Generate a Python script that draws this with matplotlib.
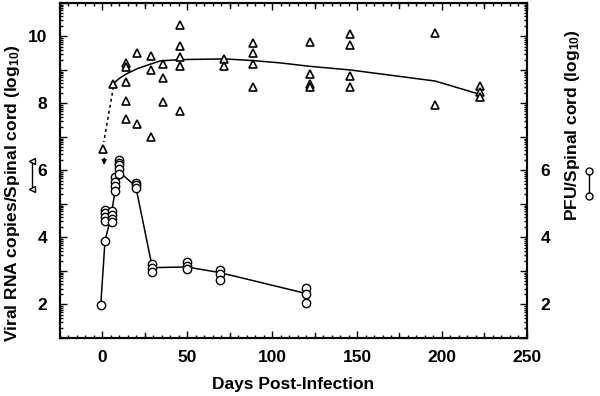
import numpy as np
import matplotlib
matplotlib.use("Agg")
import matplotlib.pyplot as plt
from matplotlib.lines import Line2D

plt.rcParams['font.family'] = 'Liberation Sans'
plt.rcParams['font.weight'] = 'bold'
plt.rcParams['mathtext.fontset'] = 'custom'
plt.rcParams['mathtext.rm'] = 'Liberation Sans:bold'
plt.rcParams['mathtext.default'] = 'rm'

# viral RNA (triangles)
rna_days = [0.5, 6.5,
            13.8, 13.8, 13.8, 13.8, 13.8,
            20.6, 20.6,
            28.6, 28.6, 28.6,
            35.9, 35.9, 35.9,
            45.7, 45.7, 45.7, 45.7, 45.7,
            71.8, 71.8,
            88.8, 88.8, 88.8, 88.8,
            122, 122, 122, 122,
            146, 146, 146, 146,
            196, 196,
            222.5, 222.5, 222.5]
rna_vals = [6.65, 8.58,
            9.21, 9.09, 8.64, 8.07, 7.55,
            9.51, 7.40,
            9.41, 9.00, 6.99,
            9.18, 8.75, 8.04,
            10.33, 9.73, 9.39, 9.11, 7.79,
            9.33, 9.13,
            9.81, 9.51, 9.18, 8.49,
            9.83, 8.87, 8.57, 8.50,
            10.06, 9.74, 8.82, 8.50,
            10.09, 7.96,
            8.52, 8.34, 8.18]
rna_fit_days = [6.5, 10, 14, 20.6, 28.6, 34, 46, 72, 89, 105, 122, 146, 196, 222.5]
rna_fit_vals = [8.6, 8.75, 8.88, 9.04, 9.18, 9.27, 9.31, 9.33, 9.28, 9.21, 9.11, 9.0, 8.67, 8.27]

# infectious virus (circles)
pfu_days = [-1, 1.5, 1.5, 1.5, 1.5, 1.5,
            5.9, 5.9, 5.9, 5.9,
            7.6, 7.6, 7.6, 7.6,
            9.8, 9.8, 9.8, 9.8, 9.8,
            19.6, 19.6, 19.6,
            29.4, 29.4, 29.4,
            49.6, 49.6, 49.6,
            69.4, 69.4, 69.4,
            119.8, 119.8, 119.8]
pfu_vals = [1.98, 3.89, 4.81, 4.72, 4.62, 4.50,
            4.78, 4.66, 4.54, 4.46,
            5.80, 5.65, 5.53, 5.38,
            6.30, 6.23, 6.15, 6.03, 5.88,
            5.63, 5.56, 5.48,
            3.21, 3.10, 2.98,
            3.26, 3.16, 3.07,
            3.04, 2.90, 2.73,
            2.50, 2.30, 2.05]
pfu_line_days = [-1, 1.5, 5.0, 7.8, 10.0, 19.6, 29.4, 49.6, 69.4, 119.8]
pfu_line_vals = [1.98, 3.89, 4.62, 5.50, 5.95, 5.53, 3.10, 3.12, 2.95, 2.33]

fig = plt.figure(figsize=(6, 3.96), dpi=100)
ax = fig.add_axes([0.1, 0.1465, 0.778, 0.846])

ax.plot(rna_fit_days, rna_fit_vals, color='black', lw=1.1, zorder=2)
ax.plot([6.5, 0.8], [8.5, 6.85], color='black', lw=1.1, ls=(0, (2, 2)), zorder=2)
ax.annotate('', xy=(1, 6.08), xytext=(1, 6.45),
            arrowprops=dict(arrowstyle='-|>', color='black', lw=1, mutation_scale=7))
ax.plot(rna_days, rna_vals, ls='none', marker='^', ms=6, mfc='white', mec='black', mew=1.2, zorder=3)

ax.plot(pfu_line_days, pfu_line_vals, color='black', lw=1.1, zorder=2)
ax.plot(pfu_days, pfu_vals, ls='none', marker='o', ms=6, mfc='white', mec='black', mew=1.0, zorder=3)

ax.set_xlim(-25, 250)
ax.set_ylim(1, 11)

ax.set_xticks([0, 50, 100, 150, 200, 250])
ax.set_xticks(np.arange(-25, 251, 5), minor=True)
ax.set_yticks(range(1, 12))
ax.set_yticklabels(['', '2', '', '4', '', '6', '', '8', '', '10', ''])
logminor = [n + np.log10(k) for n in range(1, 11) for k in range(2, 10)]
ax.set_yticks(logminor, minor=True)

ax2 = ax.twinx()
ax2.set_ylim(1, 11)
ax2.set_yticks(range(1, 12))
ax2.set_yticklabels(['', '2', '', '4', '', '6', '', '', '', '', ''])
ax2.set_yticks(logminor, minor=True)

for a in (ax, ax2):
    for s in a.spines.values():
        s.set_linewidth(1.5)
ax.tick_params(which='both', direction='in', top=True, right=False, labelsize=12.5, width=1)
ax.tick_params(which='major', length=5)
ax.tick_params(which='minor', length=2.5)
ax.tick_params(axis='x', pad=9)
ax.tick_params(axis='y', pad=9)
ax2.tick_params(which='both', direction='in', labelsize=12.5, width=1, pad=10)
ax2.tick_params(which='major', length=5)
ax2.tick_params(which='minor', length=2.5)

# major x ticks every 25 look longer than the 5-day minor ones
for xv in np.arange(25, 250, 50):
    ax.axvline(xv, ymin=0, ymax=0.015, color='black', lw=1)
    ax.axvline(xv, ymin=0.985, ymax=1, color='black', lw=1)

ax.set_xlabel('Days Post-Infection', fontsize=12.5, fontweight='bold', labelpad=8)

fig.text(13 / 600, 1 - 193 / 396, 'Viral RNA copies/Spinal cord (log$_{10}$)',
         rotation=90, ha='center', va='center', fontsize=12.5, fontweight='bold')
fig.text(573 / 600, 1 - 125 / 396, 'PFU/Spinal cord (log$_{10}$)',
         rotation=90, ha='center', va='center', fontsize=12.5, fontweight='bold')

# little symbol keys beside the axis titles
fig.add_artist(Line2D([32 / 600, 32 / 600], [1 - 161 / 396, 1 - 189 / 396],
                      color='black', lw=1, marker='<', ms=5, mfc='white', mec='black',
                      transform=fig.transFigure))
fig.add_artist(Line2D([589 / 600, 589 / 600], [1 - 171 / 396, 1 - 196 / 396],
                      color='black', lw=1, marker='o', ms=5, mfc='white', mec='black',
                      transform=fig.transFigure))

fig.savefig('out.png', dpi=100)
